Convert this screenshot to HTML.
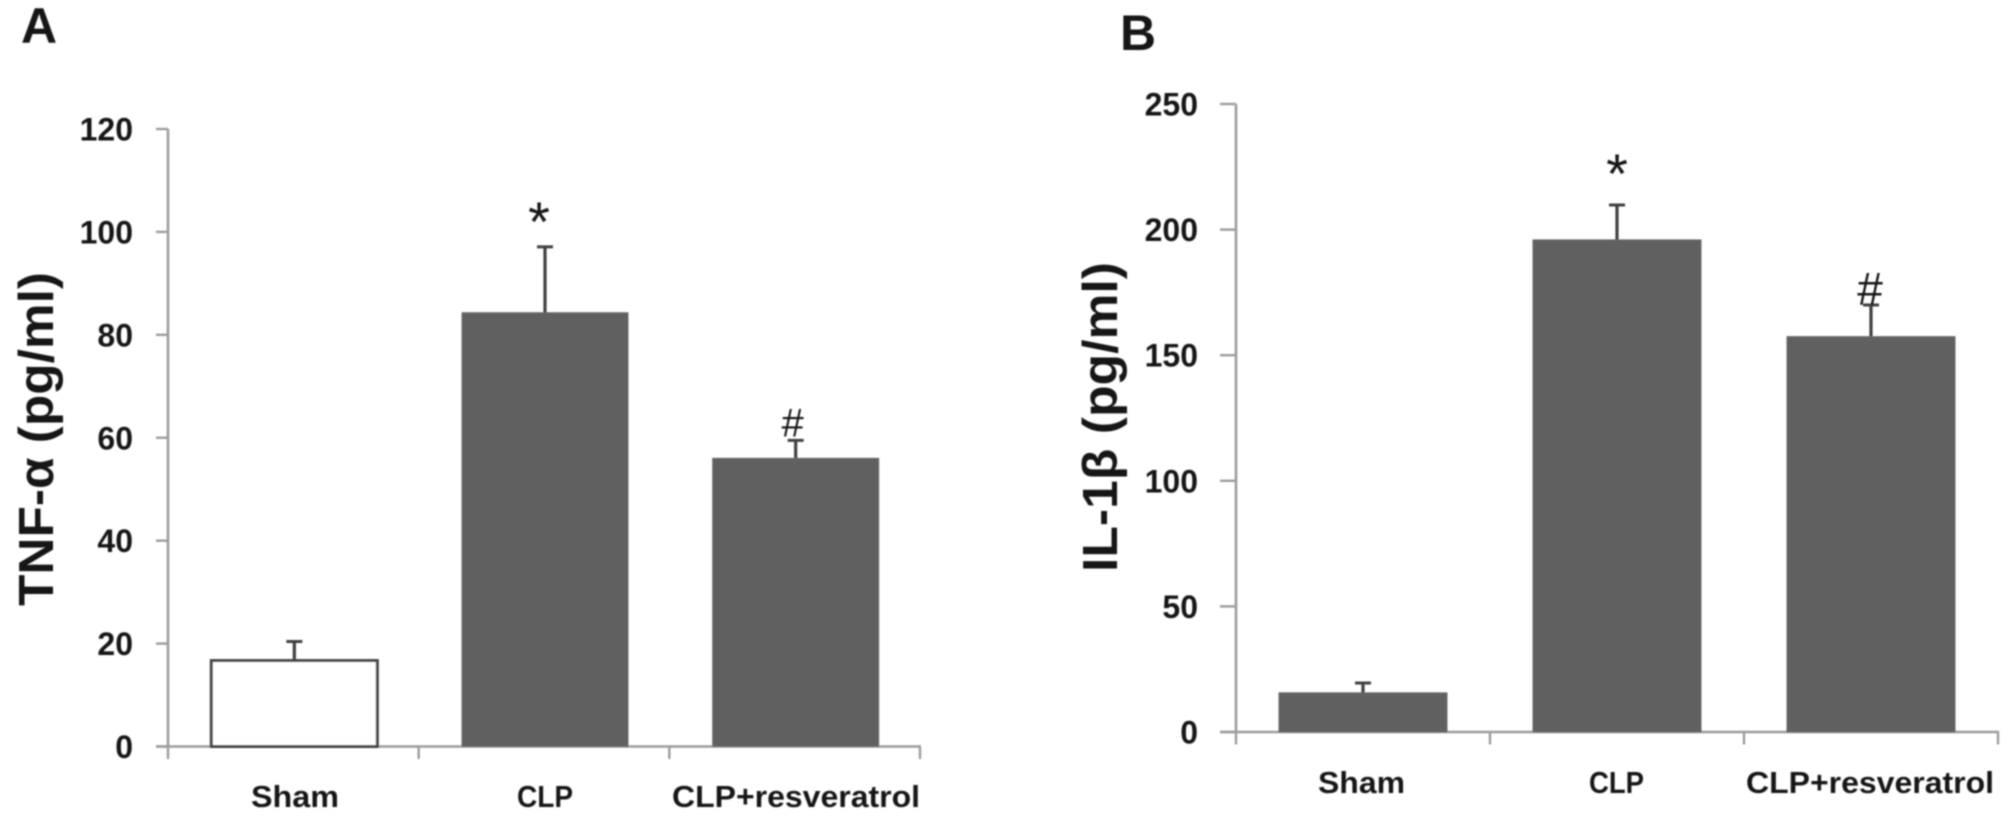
<!DOCTYPE html>
<html lang="en">
<head>
<meta charset="utf-8">
<title>TNF-α and IL-1β bar charts</title>
<style>
html,body{margin:0;padding:0;background:#fff;}
#figure{display:block;width:2008px;height:817px;background:#fff;}
text{font-family:"Liberation Sans",sans-serif;fill:#141414;}
</style>
</head>
<body>
<svg id="figure" xmlns="http://www.w3.org/2000/svg" width="2008" height="817" viewBox="0 0 2008 817">
  <defs>
    <filter id="soft" x="-2%" y="-2%" width="104%" height="104%"><feGaussianBlur stdDeviation="0.75"/></filter>
  </defs>
  <rect x="0" y="0" width="2008" height="817" fill="#ffffff"/>
  <g id="root" filter="url(#soft)"></g>
</svg>
<script>
const categories = ['Sham', 'CLP', 'CLP+resveratrol'];
const ticksA = [0, 20, 40, 60, 80, 100, 120];
const valuesA = [16.7, 84.3, 56];
const errorTopsA = [20.4, 97.1, 59.5];
const marksA = ['', '*', '#'];
const ticksB = [0, 50, 100, 150, 200, 250];
const valuesB = [15.6, 195.9, 157.4];
const errorTopsB = [19.5, 209.8, 170];
const marksB = ['', '*', '#'];

const NS = 'http://www.w3.org/2000/svg';
const root = document.getElementById('root');

function make(tag, props) {
  const el = document.createElementNS(NS, tag);
  for (const k in props) el.setAttribute(k, props[k]);
  root.appendChild(el);
  return el;
}

function drawChart(prefix, ticks, values, errorTops, marks, g) {
  const yPos = v => g.y0 - (v - ticks[0]) * (g.y0 - g.yTop) / (ticks[ticks.length - 1] - ticks[0]);
  const bandW = (g.xEnd - g.x0) / categories.length;
  const xEdge = i => g.x0 + bandW * i;

  let el = make('line', {x1: g.x0, y1: yPos(ticks[ticks.length - 1]), x2: g.x0, y2: g.y0, stroke: '#9c9c9c', 'stroke-width': 2.6});
  
  

  el = make('line', {x1: g.x0 - g.tickLen, y1: g.y0, x2: g.xEnd + 1, y2: g.y0, stroke: '#9c9c9c', 'stroke-width': 2.6});
  
  

  ticks.forEach(t => {
    const y = yPos(t);
    let n = make('line', {x1: g.x0 - g.tickLen, y1: y, x2: g.x0, y2: y, stroke: '#9c9c9c', 'stroke-width': 2.4});
    
    
    n = make('text', {x: g.x0 - g.labelGap, y: y + 11.5, 'text-anchor': 'end', 'font-size': 32, 'font-weight': 700});
    n.textContent = String(t);
    
    
  });

  for (let i = 0; i <= categories.length; i++) {
    const n = make('line', {x1: xEdge(i), y1: g.y0, x2: xEdge(i), y2: g.y0 + 12.5, stroke: '#9c9c9c', 'stroke-width': 2.4});
    
    
  }

  categories.forEach((c, i) => {
    const cx = xEdge(i) + bandW / 2 + g.barShift;
    const top = yPos(values[i]);
    const hollow = g.hollow === i;

    const err = make('line', {x1: cx, y1: yPos(errorTops[i]), x2: cx, y2: top, stroke: '#3f3f3f', 'stroke-width': 3.2});
    
    

    const cap = make('line', {x1: cx - 8, y1: yPos(errorTops[i]), x2: cx + 8, y2: yPos(errorTops[i]), stroke: '#3f3f3f', 'stroke-width': 3});
    
    

    const bar = make('rect', {
      x: cx - g.barW / 2, y: top, width: g.barW, height: yPos(0) - top,
      fill: hollow ? '#ffffff' : '#606060',
      stroke: hollow ? '#444444' : '#6a6a6a',
      'stroke-width': hollow ? 3 : 1
    });
    
    

    const lab = make('text', {
      x: g.catX[i], y: g.catY, 'font-size': 31, 'font-weight': 700,
      textLength: g.catW[i], lengthAdjust: 'spacingAndGlyphs'
    });
    lab.textContent = c;
    
    

    if (marks[i] === '*') {
      const m = make('text', {x: cx + g.starDx, y: yPos(errorTops[i]) - g.starDy, 'text-anchor': 'middle', 'font-size': 56, fill: '#222222'});
      m.textContent = '*';
      
      
    }
    if (marks[i] === '#') {
      const m = make('text', {x: cx + g.hashDx, y: yPos(errorTops[i]) - g.hashDy, 'text-anchor': 'middle', 'font-size': g.hashSize, fill: '#222222'});
      m.textContent = '#';
      
      
    }
  });

  const title = make('text', {
    transform: 'translate(' + g.titleX + ',' + g.titleY + ') rotate(-90)',
    'text-anchor': 'middle', 'font-size': 49, 'font-weight': 700,
    textLength: g.titleW, lengthAdjust: 'spacingAndGlyphs'
  });
  title.textContent = g.title;
  
  

  const letter = make('text', {x: g.letterX, y: g.letterY, 'font-size': 50, 'font-weight': 700, fill: '#0c0c0c'});
  letter.textContent = g.letter;
  
  
}

drawChart('tnf-chart', ticksA, valuesA, errorTopsA, marksA, {
  x0: 168, xEnd: 920, y0: 746.5, yTop: 129, tickLen: 12, labelGap: 35,
  barW: 166, barShift: 1, hollow: 0, catY: 807,
  catX: [251, 517, 672], catW: [88, 56, 248],
  starDx: -6, starDy: 6, hashDx: -3, hashDy: 4, hashSize: 40,
  title: 'TNF-α (pg/ml)', titleX: 53, titleY: 439, titleW: 334,
  letter: 'A', letterX: 21, letterY: 43
});

drawChart('il1b-chart', ticksB, valuesB, errorTopsB, marksB, {
  x0: 1236, xEnd: 1998, y0: 732, yTop: 104, tickLen: 16, labelGap: 38,
  barW: 168, barShift: 0, hollow: -1, catY: 793,
  catX: [1318, 1589, 1746], catW: [87, 55, 248],
  starDx: 0, starDy: 12, hashDx: -1, hashDy: 0, hashSize: 46,
  title: 'IL-1β (pg/ml)', titleX: 1117, titleY: 417, titleW: 310,
  letter: 'B', letterX: 1120, letterY: 50
});
</script>
</body>
</html>
